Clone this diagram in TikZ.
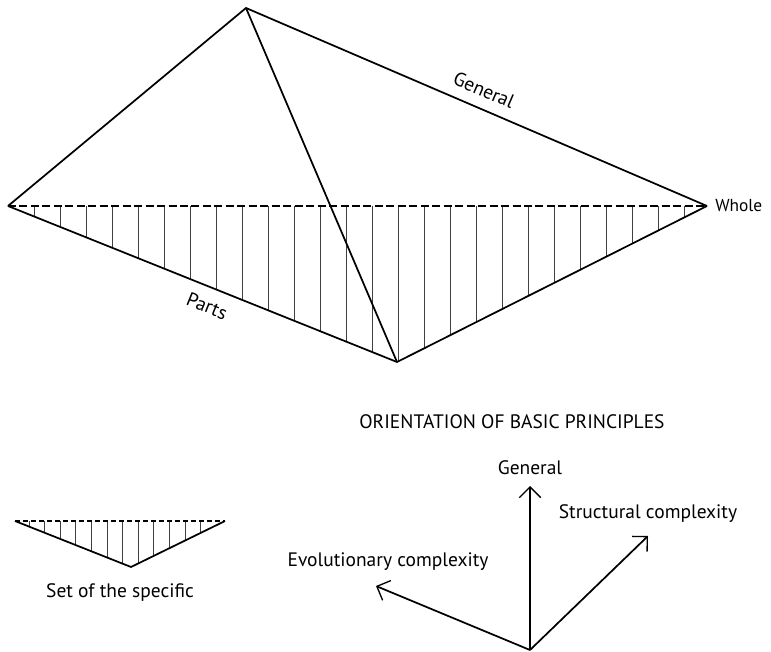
\documentclass[tikz,border=0pt]{standalone}
\usepackage{fontspec}
\setmainfont{PT Sans}
\usetikzlibrary{arrows.meta,positioning}
\tikzset{
  edge/.style={line width=1.3pt, line join=miter},
  hatch/.style={line width=0.55pt, black!75},
  dashbase/.style={line width=2.2pt, dash pattern=on 6pt off 2.6pt},
  orient/.style={line width=1.3pt, -{Straight Barb[length=8pt,width=16pt,line width=1pt]}},
  lbl/.style={font=\fontsize{14.6}{17}\selectfont, inner sep=1pt}
}
\begin{document}
\begin{tikzpicture}[x=0.75pt, y=-0.75pt]
  \useasboundingbox (0,0) rectangle (771,652);

  % Main diamond
  \coordinate (top) at (246,8);
  \coordinate (left) at (8,206);
  \coordinate (right) at (707,206);
  \coordinate (bottom) at (397,362);

  \begin{scope}
    \clip (left) -- (bottom) -- (right) -- cycle;
    \foreach \x in {34,60,...,684}
      \draw[hatch] (\x,206) -- (\x,362);
  \end{scope}
  \draw[dashbase] (left) -- (right);
  \draw[edge] (left) -- (top) -- (right);
  \draw[edge] (left) -- (bottom) -- (right);
  \draw[edge] (top) -- (bottom);
  \node[lbl, rotate=-23.3] (general) at (484,90) {General};
  \node[lbl, rotate=-21.9] (parts) at (207,306) {Parts};
  \node[lbl, font=\fontsize{13}{15}\selectfont, right=5pt of right] (whole) {Whole};

  % Legend triangle
  \coordinate (sleft) at (15,521);
  \coordinate (sright) at (225,521);
  \coordinate (sbottom) at (131,567);
  \begin{scope}
    \clip (sleft) -- (sbottom) -- (sright) -- cycle;
    \foreach \x in {29,44.6,...,215}
      \draw[hatch] (\x,521) -- (\x,567);
  \end{scope}
  \draw[dashbase, line width=1.7pt, dash pattern=on 4pt off 2pt] (sleft) -- (sright);
  \draw[edge] (sleft) -- (sbottom) -- (sright);
  \node[lbl] (specific) at (120,593) {Set of the specific};

  % Orientation
  \node[lbl] (title) at (512,422) {ORIENTATION OF BASIC PRINCIPLES};
  \coordinate (origin) at (530,650);
  \coordinate (up) at (530,486);
  \coordinate (struct) at (648,536);
  \coordinate (evol) at (376,586);
  \draw[orient, line width=1.8pt] (origin) -- (up);
  \draw[orient] (origin) -- (struct);
  \draw[orient] (origin) -- (evol);
  \node[lbl] (gen) at (530,468) {General};
  \node[lbl] (structlbl) at (648,514) {Structural complexity};
  \node[lbl] (evollbl) at (388,562) {Evolutionary complexity};
\end{tikzpicture}
\end{document}
